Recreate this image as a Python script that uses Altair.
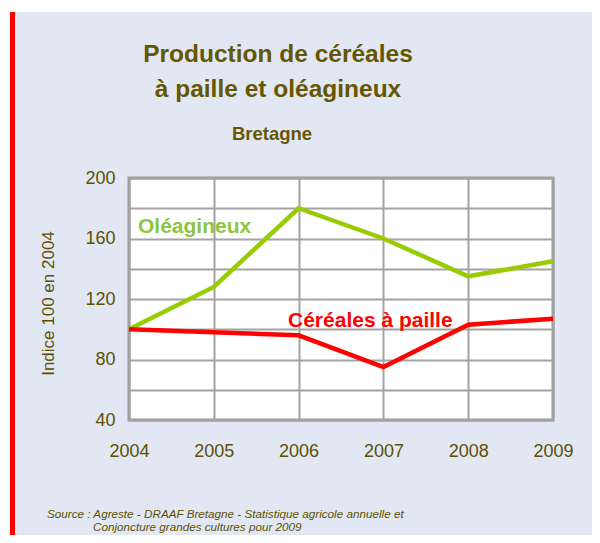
import altair as alt
import pandas as pd

# ---- data ----
years = ["2004", "2005", "2006", "2007", "2008", "2009"]
oleagineux = [100, 128, 180, 160, 135, 145]
cereales = [100, 98, 96, 75, 103, 107]
series_names = ["Oléagineux", "Céréales à paille"]
series_colors = ["#99CC00", "#FF0000"]
y_grid_values = [40, 60, 80, 100, 120, 140, 160, 180, 200]

title_lines = ["Production de céréales", "à paille et oléagineux"]
subtitle_text = "Bretagne"
y_title = "Indice 100 en 2004"
source_line1 = "Source : Agreste - DRAAF Bretagne - Statistique agricole annuelle et"
source_line2 = "Conjoncture grandes cultures pour 2009"

df = pd.DataFrame({
    "year": years * 2,
    "value": oleagineux + cereales,
    "serie": [series_names[0]] * len(years) + [series_names[1]] * len(years),
})

OLIVE = "#5E4F00"
TITLE_COL = "#675600"
BG = "#E1E8F4"
FONT = "Liberation Sans"

W, H = 424, 242
PX, PY = 129, 178  # page position of plot origin (for annotation offsets)

base = alt.Chart(df)

lines = base.mark_line(strokeWidth=4.5, strokeJoin="miter").encode(
    x=alt.X(
        "year:O",
        sort=years,
        scale=alt.Scale(type="point", padding=0),
        axis=alt.Axis(
            title=None, labelAngle=0, labelFontSize=18, labelFont=FONT,
            labelColor=OLIVE, labelPadding=22, ticks=False, domain=False,
            grid=True, gridColor="#A3A3A3", gridWidth=2,
        ),
    ),
    y=alt.Y(
        "value:Q",
        scale=alt.Scale(domain=[40, 200], nice=False, zero=False),
        axis=alt.Axis(
            values=y_grid_values,
            labelExpr="datum.value % 40 == 0 ? datum.label : ''",
            labelFontSize=18, labelFont=FONT, labelColor=OLIVE,
            labelPadding=14, ticks=False, domain=False,
            grid=True, gridColor="#A3A3A3", gridWidth=2,
            title=y_title, titleFont=FONT, titleFontSize=17,
            titleFontWeight="normal", titleColor=OLIVE,
            titleAngle=270, titleAlign="center", titleBaseline="middle",
            titleX=-81, titleY=125,
        ),
    ),
    color=alt.Color(
        "serie:N",
        scale=alt.Scale(domain=series_names, range=series_colors),
        legend=None,
    ),
)


def text_mark(txt, px, py, size, weight="normal", style="normal",
              color=OLIVE, font=FONT, align="left"):
    return alt.Chart().mark_text(
        text=txt, font=font, fontSize=size, fontWeight=weight,
        fontStyle=style, color=color, align=align, baseline="alphabetic",
    ).encode(x=alt.value(px - PX), y=alt.value(py - PY))


title1 = text_mark(title_lines[0], 278, 62, 24.5, "bold", color=TITLE_COL,
                   align="center")
title2 = text_mark(title_lines[1], 278, 97, 24.5, "bold", color=TITLE_COL,
                   align="center")
subtitle = text_mark(subtitle_text, 272, 140, 18.5, "bold", color=TITLE_COL,
                     align="center")

lab_ole = text_mark(series_names[0], 138, 233, 21, "bold", color="#8CC63F")
lab_cer = text_mark(series_names[1], 288, 327, 21, "bold", color="#FF0000")

src1 = text_mark(source_line1, 47, 518, 11.7, style="italic")
src2 = text_mark(source_line2, 93, 531, 11.7, style="italic")

# decorative red band on the left and white top strip
red_band = alt.Chart().mark_rule(color="#FF0000", strokeWidth=5).encode(
    x=alt.value(-116.5), y=alt.value(-166), y2=alt.value(400)
)
white_top = alt.Chart().mark_rule(color="white", strokeWidth=4).encode(
    x=alt.value(-121), x2=alt.value(470), y=alt.value(-168)
)
white_left = alt.Chart().mark_rule(color="white", strokeWidth=2).encode(
    x=alt.value(-120), y=alt.value(-170), y2=alt.value(400)
)

chart = alt.layer(
    lines, lab_ole, lab_cer, title1, title2, subtitle, src1, src2,
    red_band, white_top, white_left
).properties(
    width=W,
    height=H,
    background=BG,
    padding={"left": 121, "top": 170, "right": 39, "bottom": 115},
    autosize=alt.AutoSizeParams(type="none"),
).configure_view(
    fill="white", stroke="#9A9A9A", strokeWidth=3
)

chart.save("out.html", embed_options={"renderer": "svg", "actions": False})
